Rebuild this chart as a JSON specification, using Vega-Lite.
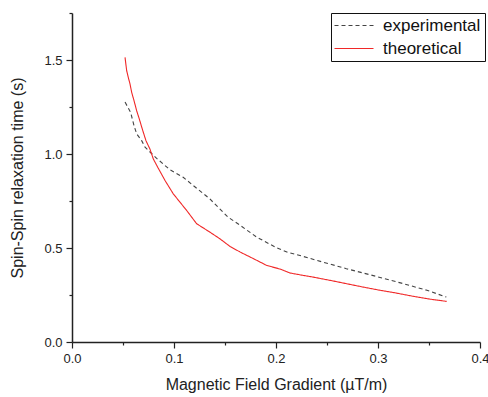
{
  "$schema": "https://vega.github.io/schema/vega-lite/v6.json",
  "width": 408,
  "height": 329,
  "autosize": {"type": "none"},
  "padding": {"left": 72, "top": 13, "right": 8, "bottom": 55},
  "background": "white",
  "config": {
    "view": {"stroke": null},
    "font": "Liberation Sans",
    "axis": {
      "grid": false,
      "domainColor": "#222",
      "domainWidth": 1.5,
      "tickColor": "#222",
      "tickWidth": 1.2,
      "labelFont": "Liberation Sans",
      "labelFontSize": 13,
      "labelColor": "#222",
      "titleFont": "Liberation Sans",
      "titleFontSize": 16,
      "titleFontWeight": "normal",
      "titleColor": "#222"
    }
  },
  "data": {
    "values": [
      {"x": 0.052, "y": 1.276, "series": "experimental"},
      {"x": 0.0575, "y": 1.221, "series": "experimental"},
      {"x": 0.0608, "y": 1.151, "series": "experimental"},
      {"x": 0.0634, "y": 1.107, "series": "experimental"},
      {"x": 0.0683, "y": 1.071, "series": "experimental"},
      {"x": 0.0716, "y": 1.036, "series": "experimental"},
      {"x": 0.083, "y": 0.977, "series": "experimental"},
      {"x": 0.0961, "y": 0.916, "series": "experimental"},
      {"x": 0.109, "y": 0.876, "series": "experimental"},
      {"x": 0.119, "y": 0.832, "series": "experimental"},
      {"x": 0.135, "y": 0.762, "series": "experimental"},
      {"x": 0.153, "y": 0.664, "series": "experimental"},
      {"x": 0.165, "y": 0.62, "series": "experimental"},
      {"x": 0.181, "y": 0.558, "series": "experimental"},
      {"x": 0.201, "y": 0.5, "series": "experimental"},
      {"x": 0.212, "y": 0.476, "series": "experimental"},
      {"x": 0.2235, "y": 0.46, "series": "experimental"},
      {"x": 0.246, "y": 0.425, "series": "experimental"},
      {"x": 0.269, "y": 0.39, "series": "experimental"},
      {"x": 0.292, "y": 0.358, "series": "experimental"},
      {"x": 0.323, "y": 0.313, "series": "experimental"},
      {"x": 0.348, "y": 0.275, "series": "experimental"},
      {"x": 0.367, "y": 0.239, "series": "experimental"},
      {"x": 0.052, "y": 1.514, "series": "theoretical"},
      {"x": 0.0536, "y": 1.443, "series": "theoretical"},
      {"x": 0.0552, "y": 1.407, "series": "theoretical"},
      {"x": 0.0569, "y": 1.372, "series": "theoretical"},
      {"x": 0.0585, "y": 1.328, "series": "theoretical"},
      {"x": 0.0608, "y": 1.284, "series": "theoretical"},
      {"x": 0.0634, "y": 1.23, "series": "theoretical"},
      {"x": 0.066, "y": 1.186, "series": "theoretical"},
      {"x": 0.0689, "y": 1.133, "series": "theoretical"},
      {"x": 0.0725, "y": 1.071, "series": "theoretical"},
      {"x": 0.0765, "y": 1.025, "series": "theoretical"},
      {"x": 0.0797, "y": 0.974, "series": "theoretical"},
      {"x": 0.084, "y": 0.93, "series": "theoretical"},
      {"x": 0.0912, "y": 0.859, "series": "theoretical"},
      {"x": 0.0993, "y": 0.788, "series": "theoretical"},
      {"x": 0.1125, "y": 0.699, "series": "theoretical"},
      {"x": 0.1222, "y": 0.629, "series": "theoretical"},
      {"x": 0.1353, "y": 0.584, "series": "theoretical"},
      {"x": 0.145, "y": 0.549, "series": "theoretical"},
      {"x": 0.155, "y": 0.508, "series": "theoretical"},
      {"x": 0.165, "y": 0.478, "series": "theoretical"},
      {"x": 0.178, "y": 0.443, "series": "theoretical"},
      {"x": 0.191, "y": 0.407, "series": "theoretical"},
      {"x": 0.204, "y": 0.388, "series": "theoretical"},
      {"x": 0.2137, "y": 0.367, "series": "theoretical"},
      {"x": 0.227, "y": 0.354, "series": "theoretical"},
      {"x": 0.2366, "y": 0.345, "series": "theoretical"},
      {"x": 0.2529, "y": 0.328, "series": "theoretical"},
      {"x": 0.2693, "y": 0.31, "series": "theoretical"},
      {"x": 0.2856, "y": 0.292, "series": "theoretical"},
      {"x": 0.302, "y": 0.275, "series": "theoretical"},
      {"x": 0.3183, "y": 0.26, "series": "theoretical"},
      {"x": 0.3346, "y": 0.243, "series": "theoretical"},
      {"x": 0.351, "y": 0.228, "series": "theoretical"},
      {"x": 0.3673, "y": 0.216, "series": "theoretical"}
    ]
  },
  "mark": {"type": "line", "strokeWidth": 1.1, "clip": true},
  "encoding": {
    "x": {
      "field": "x",
      "type": "quantitative",
      "scale": {"domain": [0, 0.4], "nice": false, "zero": false},
      "axis": {
        "title": "Magnetic Field Gradient (µT/m)",
        "values": [0, 0.05, 0.1, 0.15, 0.2, 0.25, 0.3, 0.35, 0.4],
        "format": ".1f",
        "labelExpr": "abs(datum.value*10 - round(datum.value*10)) < 0.001 ? datum.label : ''",
        "tickSize": {"condition": {"test": "abs(datum.value*10 - round(datum.value*10)) < 0.001", "value": 6}, "value": 3},
        "labelPadding": 4,
        "titlePadding": 11,
        "labelFlush": false
      }
    },
    "y": {
      "field": "y",
      "type": "quantitative",
      "scale": {"domain": [0, 1.75], "nice": false, "zero": false},
      "axis": {
        "title": "Spin-Spin relaxation time (s)",
        "values": [0, 0.25, 0.5, 0.75, 1, 1.25, 1.5, 1.75],
        "format": ".1f",
        "labelExpr": "abs(datum.value*2 - round(datum.value*2)) < 0.001 && datum.value < 1.7 ? datum.label : ''",
        "tickSize": {"condition": {"test": "abs(datum.value*2 - round(datum.value*2)) < 0.001 && datum.value < 1.7", "value": 6}, "value": 3},
        "labelPadding": 4,
        "titlePadding": 18,
        "labelFlush": false
      }
    },
    "color": {
      "field": "series",
      "type": "nominal",
      "scale": {"domain": ["experimental", "theoretical"], "range": ["#444444", "#f02828"]},
      "legend": {
        "title": null,
        "orient": "none",
        "legendX": 259,
        "legendY": 0,
        "strokeColor": "#111",
        "padding": 4,
        "symbolType": "M-1.8,0H6",
        "symbolSize": 100,
        "symbolStrokeWidth": 1.1,
        "labelFont": "Liberation Sans",
        "labelFontSize": 17,
        "labelColor": "#111",
        "labelOffset": 31,
        "rowPadding": 5
      }
    },
    "strokeDash": {
      "field": "series",
      "type": "nominal",
      "scale": {"domain": ["experimental", "theoretical"], "range": [[4, 3], [1, 0]]},
      "legend": null
    }
  }
}
